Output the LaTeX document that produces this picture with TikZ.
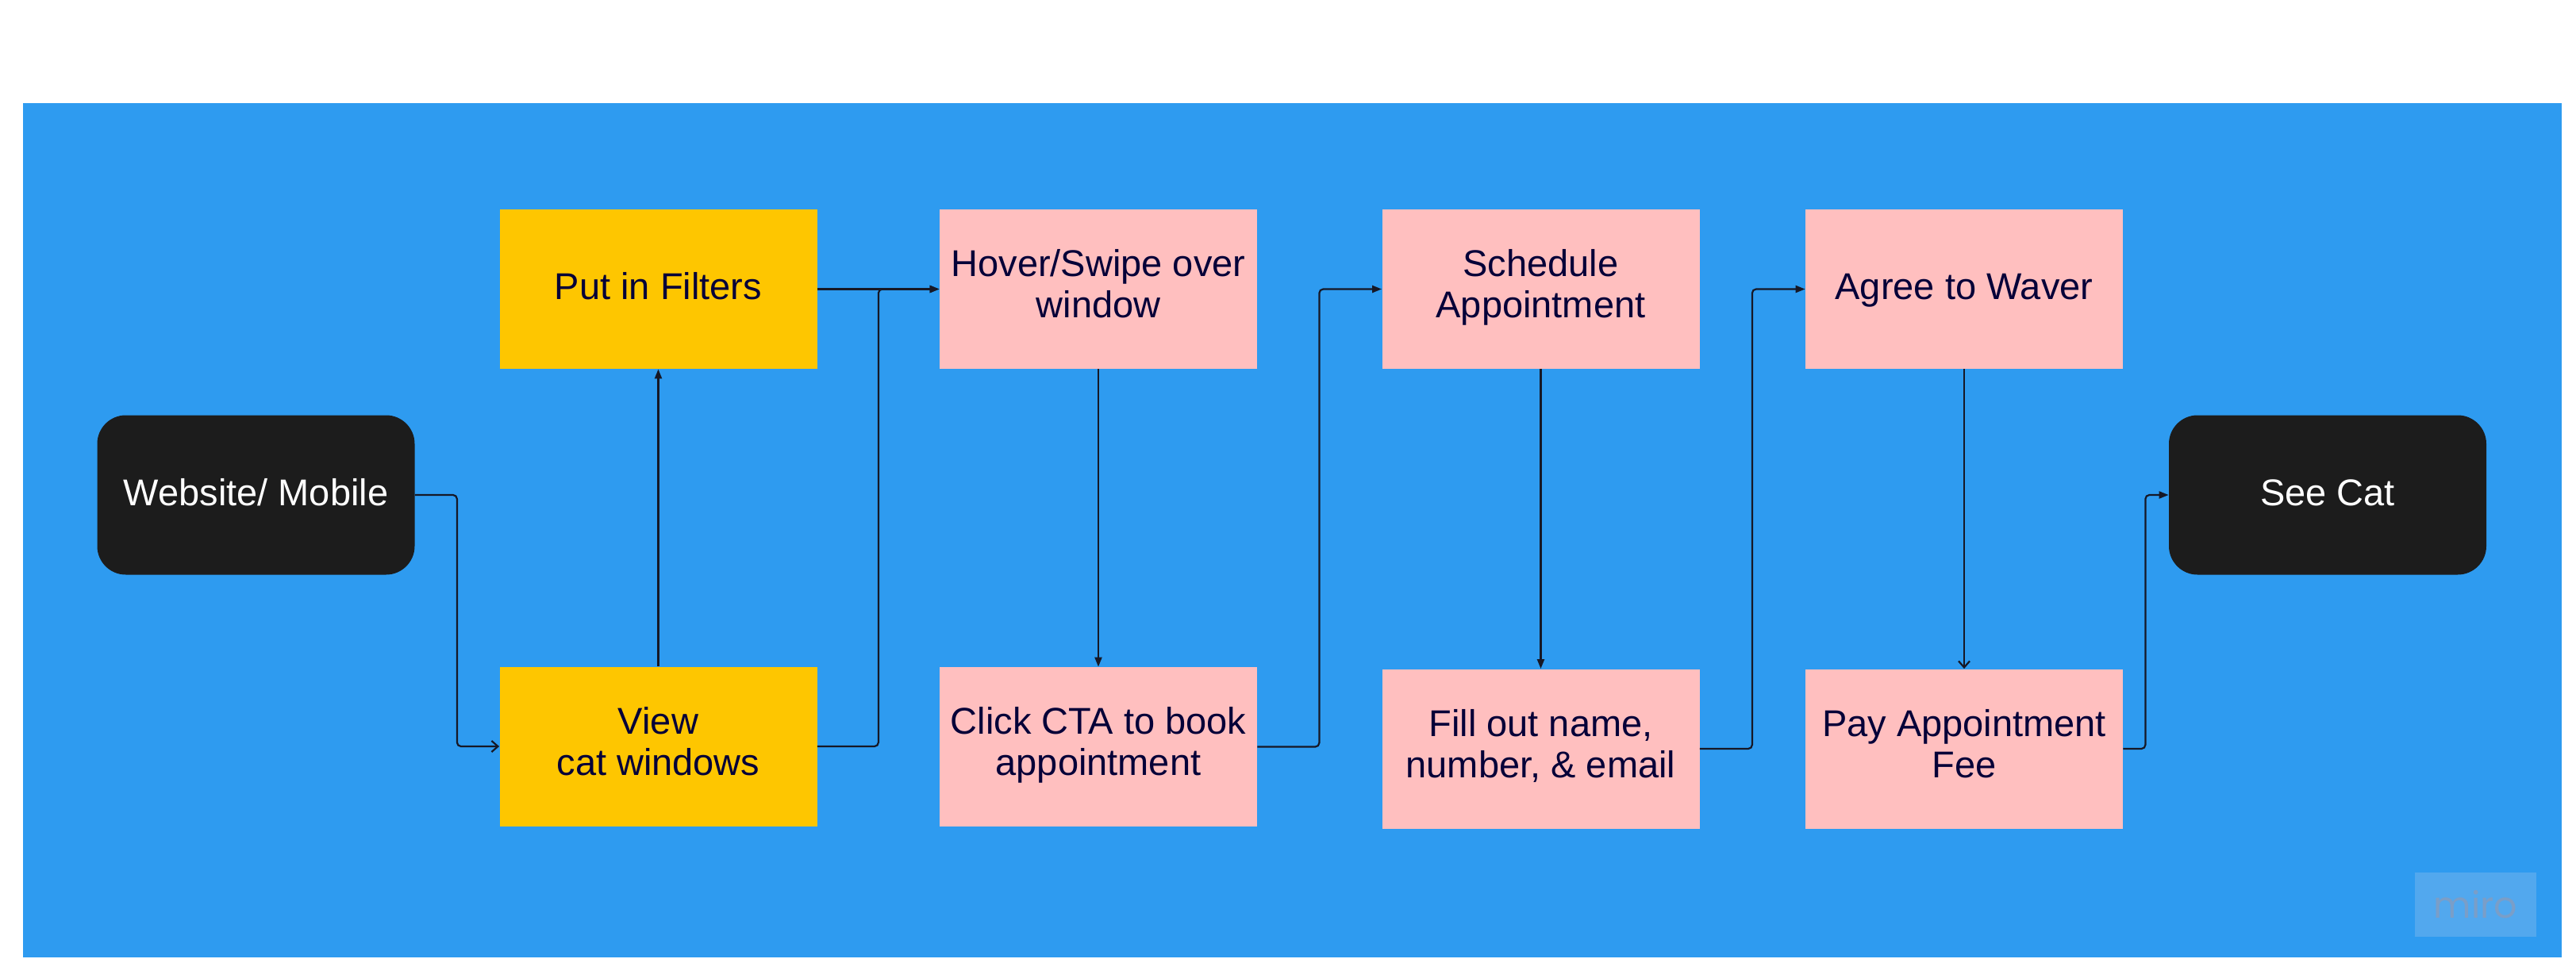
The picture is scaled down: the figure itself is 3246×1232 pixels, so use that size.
\documentclass[tikz,border=0pt]{standalone}
\usepackage{fontspec}
\setmainfont{Liberation Sans}
\newfontfamily\wmfont{Poppins}
\usetikzlibrary{arrows.meta}
\definecolor{bgblue}{RGB}{46,155,240}
\definecolor{byellow}{RGB}{254,198,0}
\definecolor{bpink}{RGB}{255,191,191}
\definecolor{bblack}{RGB}{28,28,28}
\definecolor{navy}{RGB}{5,0,56}
\definecolor{linec}{RGB}{22,24,38}
\definecolor{wmbox}{RGB}{82,168,238}
\definecolor{wmtext}{RGB}{122,158,200}
\tikzset{
  boxbase/.style={rectangle, minimum width=200pt, minimum height=100.5pt, inner sep=0pt,
    align=center, font=\fontsize{23.5}{26}\selectfont,
    execute at begin node={\rule{0pt}{20pt}},
    execute at end node={\rule[-6.9pt]{0pt}{6.9pt}}},
  yellowbox/.style={boxbase, fill=byellow, text=navy},
  pinkbox/.style={boxbase, fill=bpink, text=navy},
  endbox/.style={boxbase, fill=bblack, text=white, rounded corners=18pt},
  conn/.style={draw=linec, line width=1.1pt, rounded corners=2.5pt},
  filledtip/.style={conn, -{Triangle[length=6pt,width=4.5pt]}},
  opentip/.style={conn, -{Straight Barb[length=4pt,width=7pt,line width=1.1pt]}}
}
\begin{document}
\begin{tikzpicture}[x=0.5pt,y=-0.5pt]
\useasboundingbox (0,0) rectangle (3246,1232);
\fill[white] (0,0) rectangle (3246,1232);
\fill[bgblue] (29,130) rectangle (3228,1207);
% watermark
\node[fill=wmbox, minimum width=76.5pt, minimum height=40.5pt, inner sep=0pt,
  text=wmtext, font=\wmfont\fontsize{23}{25}\selectfont] (wm) at (3119.5,1140.5) {miro};
% nodes
\node[endbox] (web) at (322.5,624) {Website/ Mobile};
\node[yellowbox] (filters) at (829.5,364.5) {Put in Filters};
\node[yellowbox] (view) at (829.5,941) {View\\cat windows};
\node[pinkbox] (hover) at (1384,364.5) {Hover/Swipe over\\window};
\node[pinkbox] (click) at (1384,941.5) {Click CTA to book\\appointment};
\node[pinkbox] (sched) at (1941.5,364.5) {Schedule\\Appointment};
\node[pinkbox] (fill) at (1941.5,944) {Fill out name,\\number, \& email};
\node[pinkbox] (agree) at (2475,364.5) {Agree to Waver};
\node[pinkbox] (pay) at (2475,944) {Pay Appointment\\Fee};
\node[endbox] (seecat) at (2933,624) {See Cat};
% connectors
\draw[opentip] (web.east) -- ++(53,0) |- (view.west);
\draw[filledtip] (view.north) -- (filters.south);
\draw[filledtip] (filters.east) -- (hover.west);
\draw[filledtip] (view.east) -- ++(77,0) |- (hover.west);
\draw[filledtip] (hover.south) -- (click.north);
\draw[filledtip] (click.east) -- ++(78,0) |- (sched.west);
\draw[filledtip] (sched.south) -- (fill.north);
\draw[filledtip] (fill.east) -- ++(66,0) |- (agree.west);
\draw[opentip] (agree.south) -- (pay.north);
\draw[filledtip] (pay.east) -- ++(28,0) |- (seecat.west);
\end{tikzpicture}
\end{document}
